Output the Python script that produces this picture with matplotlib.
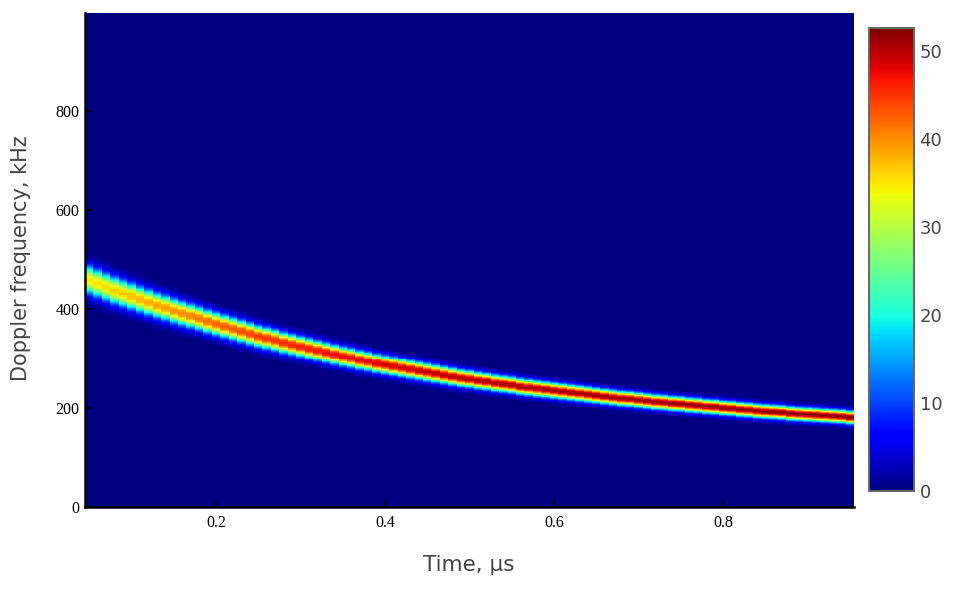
import numpy as np
import matplotlib
matplotlib.use("Agg")
import matplotlib.pyplot as plt

time_bins = [round(0.05 + 0.01 * i, 2) for i in range(91)]

# ridge centre in each column, kHz
ridge_khz = [458, 451, 444, 437, 431, 425, 419, 413, 407, 402,
             396, 391, 386, 381, 375, 370, 365, 360, 355, 350,
             345, 341, 337, 332, 328, 324, 320, 316, 312, 308,
             304, 301, 297, 294, 290, 287, 284, 281, 278, 275,
             272, 269, 266, 263, 260, 258, 255, 253, 250, 248,
             246, 243, 241, 239, 237, 235, 233, 231, 229, 227,
             225, 223, 221, 219, 218, 216, 214, 212, 211, 209,
             208, 206, 205, 203, 202, 200, 199, 197, 196, 194,
             193, 192, 191, 189, 188, 187, 186, 185, 184, 183,
             181]

# peak value in each column
peak_value = [35, 35.5, 36, 36.5, 37, 37.5, 38, 38.5, 39, 39.5,
              40, 40.5, 41, 41.5, 42, 42.5, 43, 43.5, 44, 44.5,
              45, 45.3, 45.6, 46, 46.3, 46.6, 47, 47.3, 47.6, 48,
              48.2, 48.4, 48.6, 48.8, 49, 49.2, 49.4, 49.6, 49.8, 50,
              50.1, 50.2, 50.3, 50.4, 50.5, 50.6, 50.7, 50.8, 50.9, 51,
              51, 51, 51.1, 51.1, 51.2, 51.2, 51.3, 51.3, 51.4, 51.4,
              51.5, 51.5, 51.5, 51.6, 51.6, 51.6, 51.7, 51.7, 51.7, 51.8,
              51.8, 51.8, 51.9, 51.9, 51.9, 52, 52, 52, 52, 52.1,
              52.1, 52.1, 52.2, 52.2, 52.2, 52.3, 52.3, 52.3, 52.4, 52.4,
              52.4]

# half width of the band in each column, kHz
band_width = [18.5, 18.2, 17.9, 17.6, 17.3, 17, 16.7, 16.4, 16.2, 15.9,
              15.7, 15.4, 15.2, 15, 14.8, 14.6, 14.4, 14.2, 14, 13.8,
              13.6, 13.4, 13.2, 13.1, 12.9, 12.7, 12.6, 12.4, 12.3, 12.1,
              12, 11.9, 11.7, 11.6, 11.5, 11.4, 11.3, 11.2, 11.1, 11,
              10.9, 10.8, 10.7, 10.6, 10.5, 10.4, 10.3, 10.2, 10.1, 10,
              10, 9.9, 9.8, 9.8, 9.7, 9.6, 9.6, 9.5, 9.4, 9.4,
              9.3, 9.3, 9.2, 9.2, 9.1, 9.1, 9, 9, 8.9, 8.9,
              8.8, 8.8, 8.8, 8.7, 8.7, 8.6, 8.6, 8.6, 8.5, 8.5,
              8.5, 8.4, 8.4, 8.4, 8.3, 8.3, 8.3, 8.2, 8.2, 8.2,
              8.2]

# shape of one column, offset in band widths against share of the peak
shape_offset = [-3.2, -2.8, -2.4, -2.0, -1.6, -1.2, -0.8, -0.4, 0, 0.4, 0.8, 1.2, 1.6, 2.0, 2.4, 2.8, 3.2]
shape_level = [0, 0.02, 0.06, 0.14, 0.29, 0.52, 0.77, 0.95, 1, 0.95, 0.77, 0.52, 0.29, 0.14, 0.06, 0.02, 0]

x_ticks = [0.2, 0.4, 0.6, 0.8]
y_ticks = [0, 200, 400, 600, 800]
cbar_ticks = [0, 10, 20, 30, 40, 50]

W, H = 955, 595
fig = plt.figure(figsize=(W / 100, H / 100), dpi=100)

ax = fig.add_axes([85 / W, 1 - 507 / H, (854 - 85) / W, (507 - 13) / H])

freq_edges = np.arange(0, 1001, 2)
freq_mid = (freq_edges[:-1] + freq_edges[1:]) / 2
time_edges = np.append(np.array(time_bins) - 0.005, time_bins[-1] + 0.005)

z = np.zeros((len(freq_mid), len(time_bins)))
for i in range(len(time_bins)):
    off = (freq_mid - ridge_khz[i]) / band_width[i]
    z[:, i] = peak_value[i] * np.interp(off, shape_offset, shape_level)

mesh = ax.pcolormesh(time_edges, freq_edges, z, cmap="jet", vmin=0, vmax=52.6,
                     shading="flat", rasterized=True)
ax.set_xlim(0.045, 0.955)
ax.set_ylim(0, 998)

for s in ["top", "right"]:
    ax.spines[s].set_visible(False)
for s in ["left", "bottom"]:
    ax.spines[s].set_linewidth(1.8)
    ax.spines[s].set_color("black")

ax.set_xticks(x_ticks)
ax.set_xticklabels(["0.2", "0.4", "0.6", "0.8"])
ax.set_yticks(y_ticks)
ax.tick_params(direction="in", length=5, width=1.2, color="black", labelcolor="black",
               labelsize=11.5, pad=4)
for lab in ax.get_xticklabels() + ax.get_yticklabels():
    lab.set_family("Liberation Serif")
ax.tick_params(axis="x", pad=6)

fig.text(469 / W, 1 - 565 / H, "Time, µs", ha="center", va="center",
         fontsize=15.5, color="#444444", family="DejaVu Sans")
fig.text(21 / W, 1 - 258 / H, "Doppler frequency, kHz", ha="center", va="center",
         rotation=90, fontsize=15, color="#444444", family="DejaVu Sans")

cax = fig.add_axes([869 / W, 1 - 491 / H, (914 - 869) / W, (491 - 28) / H])
cbar = fig.colorbar(mesh, cax=cax)
cbar.set_ticks(cbar_ticks)
cbar.ax.tick_params(length=0, labelsize=13, labelcolor="#444444", pad=4)
cbar.outline.set_edgecolor("#666666")
cbar.outline.set_linewidth(1.4)

fig.savefig("out.png", dpi=100)
